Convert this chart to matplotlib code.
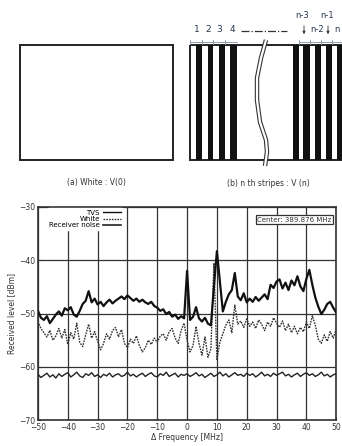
import matplotlib.pyplot as plt
from matplotlib.patches import Rectangle
from matplotlib.lines import Line2D

# spectrum data (1 MHz steps)
freq = list(range(-50, 51))
tvs = [
    -49.5, -50.8, -51.2, -50.5, -51.8, -51.0, -50.2, -49.6, -50.4, -49.0,
    -49.4, -48.8, -50.2, -50.6, -49.5, -48.2, -47.6, -45.8, -47.9, -47.2,
    -48.3, -47.8, -48.6, -47.9, -47.4, -48.1, -47.6, -47.2, -46.8, -47.3,
    -46.6, -47.1, -47.6, -47.2, -47.8, -47.4, -47.9, -48.2, -47.8, -48.6,
    -48.9, -49.5, -49.2, -50.1, -49.7, -50.6, -50.2, -51.0, -50.5, -50.9,
    -42.0,
    -51.2, -50.6, -48.8, -50.9, -51.5, -50.8, -51.9, -52.2, -45.0, -38.3,
    -44.0, -49.6, -47.8, -46.4, -45.6, -42.4, -46.8, -47.5, -46.2, -47.9,
    -47.2, -47.8, -46.9, -47.6, -47.0, -46.4, -47.3, -44.6, -45.2, -44.0,
    -43.6, -45.3, -44.2, -45.6, -43.8, -44.7, -43.0, -44.9, -45.8, -43.5,
    -41.8, -44.6, -47.0, -48.7, -50.1, -49.3, -48.2, -47.8, -48.9, -49.8,
]
white = [
    -51.5, -52.8, -53.6, -54.4, -53.2, -55.0, -54.2, -52.8, -54.6, -53.0,
    -55.8, -53.6, -54.8, -51.8, -55.4, -56.2, -54.0, -52.0, -54.6, -53.4,
    -55.2, -56.8, -55.6, -53.8, -54.8, -53.2, -52.6, -54.4, -53.0, -55.6,
    -56.4, -54.8, -55.6, -54.2, -56.0, -57.2, -56.4, -55.0, -55.8, -54.6,
    -55.4, -54.2, -53.8, -55.0, -53.4, -52.8, -54.6, -55.6, -53.2, -51.8,
    -55.0,
    -57.2, -56.0, -52.4, -55.6, -57.8, -54.4, -58.2, -56.6, -40.5, -58.6,
    -55.4, -53.8, -52.2, -51.2, -53.6, -48.4, -52.0, -51.4, -52.6, -51.0,
    -52.4, -51.6, -52.8, -51.2, -52.0, -53.2, -51.6, -52.4, -50.8, -51.8,
    -52.6, -51.4, -53.2, -52.0, -53.6, -52.4, -53.8, -52.6, -53.4, -51.6,
    -52.8, -50.4, -52.2, -54.8, -55.6, -54.0, -55.2, -53.4, -54.6, -53.0,
]
noise = [
    -61.4, -62.0, -61.6, -61.2, -61.9, -61.5, -62.1, -61.3, -61.8, -61.4,
    -61.1, -61.9, -61.5, -61.0, -61.7, -62.0, -61.3, -61.6, -61.1, -61.8,
    -61.5, -62.0, -61.4, -61.7, -61.2, -61.9, -61.5, -61.3, -61.8, -61.6,
    -61.0, -61.7, -61.4, -61.9, -61.5, -61.2, -61.8, -61.4, -61.1, -61.7,
    -61.9, -61.3, -61.6, -61.0, -61.8, -61.5, -61.2, -61.9, -61.4, -61.6,
    -61.3,
    -61.8, -61.5, -61.1, -61.7, -61.4, -62.0, -61.6, -61.2, -61.8, -61.5,
    -61.0, -61.7, -61.3, -61.9, -61.5, -61.1, -61.6, -61.4, -61.8, -61.2,
    -61.6, -61.3, -61.9, -61.5, -61.0, -61.7, -61.4, -61.8, -61.2, -61.6,
    -61.3, -61.0, -61.7, -61.4, -61.9, -61.5, -61.2, -61.8, -61.4, -61.1,
    -61.6, -61.3, -61.8, -61.5, -61.0, -61.7, -61.4, -61.9, -61.5, -61.3,
]
xticks = list(range(-50, 51, 10))
yticks = list(range(-70, -29, 10))

# stripe pattern for the schematic (pixel coords of the top panel)
stripes_left = [(196, 202), (208, 213), (219, 225), (230, 237)]
stripes_right = [(293, 299), (303, 310), (315, 321), (326, 332), (337, 342)]

dark = '#222222'
fig = plt.figure(figsize=(3.42, 4.46), dpi=100)

# ---- top schematic ----
top = fig.add_axes([0, 0.55, 1, 0.45])
top.set_xlim(0, 342)
top.set_ylim(200.7, 0)
top.axis('off')

top.add_patch(Rectangle((20, 45), 153, 115, fill=False, ec=dark, lw=1.4))
top.text(96, 183, '(a) White : V(0)', ha='center', va='center', fontsize=5.5, color='#333')

top.add_patch(Rectangle((190, 45), 160, 115, fill=False, ec=dark, lw=1.4, clip_on=True))
for a, b in stripes_left + stripes_right:
    top.add_patch(Rectangle((a, 45), b - a, 115, fc='#111111', ec='none'))

wx = [266, 261, 257, 257, 260, 266, 267, 265]
wy = [40, 58, 78, 100, 122, 140, 152, 166]
top.plot(wx, wy, color='#333', lw=3.2, solid_capstyle='butt')
top.plot(wx, wy, color='white', lw=1.6, solid_capstyle='butt')

top.text(268, 183, '(b) n th stripes : V (n)', ha='center', va='center', fontsize=5.5, color='#333')

for i, xp in enumerate([197, 208, 219, 232]):
    top.text(xp, 30, str(i + 1), ha='center', va='center', fontsize=6.5, color='#2a3550')
top.plot([241, 287], [31, 31], color='#333', lw=0.9, ls='-.')
top.text(302, 15, 'n-3', ha='center', va='center', fontsize=6, color='#2a3550')
top.text(327, 15, 'n-1', ha='center', va='center', fontsize=6, color='#2a3550')
top.text(317, 30, 'n-2', ha='center', va='center', fontsize=6, color='#2a3550')
top.text(337, 30, 'n', ha='center', va='center', fontsize=6, color='#2a3550')
for xp in [304, 328]:
    top.annotate('', xy=(xp, 37), xytext=(xp, 23),
                 arrowprops=dict(arrowstyle='-|>', lw=0.6, color='#333', mutation_scale=4))
for a, b in [(190, 202), (202, 213), (213, 225), (225, 237),
             (299, 310), (310, 321), (321, 332), (332, 342)]:
    top.plot([a, b], [42, 42], color='#8090a0', lw=0.6)
    top.plot([a, a], [40, 44], color='#8090a0', lw=0.6)

# ---- spectrum plot ----
ax = fig.add_axes([0.111, 0.058, 0.872, 0.478])
ax.plot(freq, noise, color='#222', lw=1.0, label='Receiver noise', zorder=3)
ax.plot(freq, white, color='#333', lw=1.0, ls=(0, (1.2, 0.8)), label='White', zorder=4)
ax.plot(freq, tvs, color='#111', lw=1.6, label='TVS', zorder=5)

ax.set_xlim(-50, 50)
ax.set_ylim(-70, -30)
ax.set_xticks(xticks)
ax.set_yticks(yticks)
ax.grid(True, color='#333', lw=0.9)
ax.tick_params(labelsize=5.5, direction='in', length=2, pad=2, colors='#333')
for s in ax.spines.values():
    s.set_linewidth(1.2)
    s.set_color('#333')
ax.set_xlabel('Δ Frequency [MHz]', fontsize=5.5, labelpad=1, color='#333')
ax.set_ylabel('Received level [dBm]', fontsize=5.5, labelpad=2, color='#333')

h = [Line2D([], [], color='#111', lw=1.0),
     Line2D([], [], color='#333', lw=1.0, ls=(0, (1.2, 0.8))),
     Line2D([], [], color='#222', lw=1.2)]
leg = ax.legend(h, ['TVS', 'White', 'Receiver noise'], loc='upper left',
                bbox_to_anchor=(0.02, 1.01), markerfirst=False, frameon=True,
                fontsize=5, handlelength=2.6, handletextpad=0.5, labelspacing=0.05,
                borderpad=0.2, framealpha=1, edgecolor='white')
for t in leg.get_texts():
    t.set_ha('right')

ax.text(0.985, 0.955, 'Center: 389.876 MHz', transform=ax.transAxes, ha='right', va='top',
        fontsize=5, color='#333',
        bbox=dict(boxstyle='square,pad=0.25', fc='white', ec='#333', lw=0.9), zorder=6)

fig.savefig('out.png', dpi=100)
